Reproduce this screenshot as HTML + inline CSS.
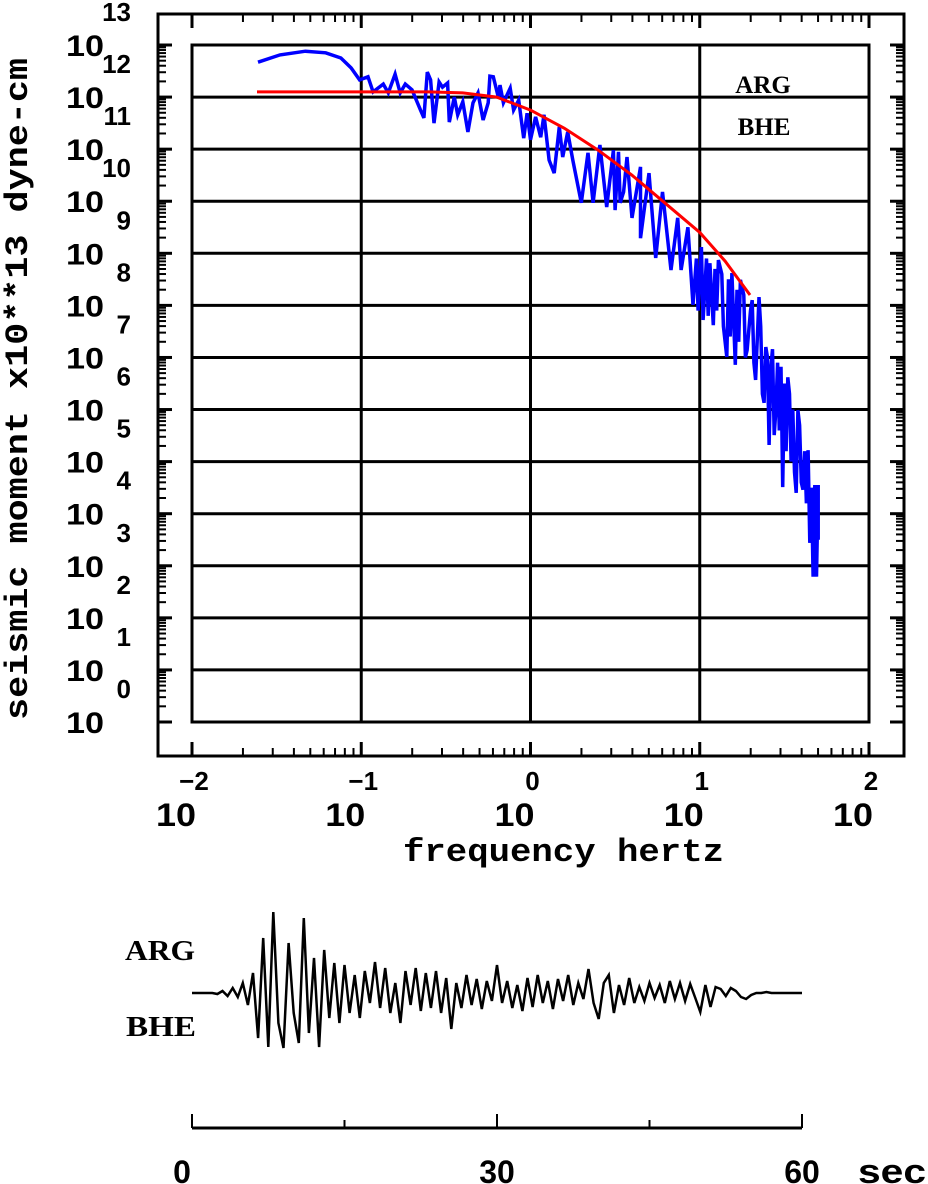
<!DOCTYPE html>
<html><head><meta charset="utf-8"><style>
html,body{margin:0;padding:0;background:#fff;}
svg{display:block;}
.num{font-family:"Liberation Sans",sans-serif;font-weight:bold;}
.ser{font-family:"Liberation Serif",serif;font-weight:bold;}
.mono{font-family:"Liberation Mono",monospace;font-weight:bold;}
</style></head><body>
<svg id="chart" width="928" height="1184" viewBox="0 0 928 1184" xmlns="http://www.w3.org/2000/svg">
<g id="frame"></g>
<g id="grid"></g>
<g id="ticks"></g>
<g id="labels"></g>
<g id="series"></g>
<text class="ser" x="763" y="93" font-size="25" text-anchor="middle">ARG</text>
<text class="ser" x="764" y="135" font-size="25" text-anchor="middle">BHE</text>
<text class="mono" x="0" y="0" font-size="32" textLength="662" lengthAdjust="spacingAndGlyphs" transform="translate(27,720) rotate(-90)">seismic moment x10**13 dyne-cm</text>
<text class="mono" x="403" y="861" font-size="32" textLength="321" lengthAdjust="spacingAndGlyphs">frequency hertz</text>
<text class="ser" x="125" y="960" font-size="28" textLength="70" lengthAdjust="spacingAndGlyphs">ARG</text>
<text class="ser" x="126" y="1036" font-size="28" textLength="70" lengthAdjust="spacingAndGlyphs">BHE</text>
<g id="trace"></g>
<g id="taxis"></g>
</svg>
<script>
// ---- spectrum data (log10 frequency Hz, log10 moment) ----
const specLogF = [-1.61,-1.48,-1.33,-1.21,-1.12,-1.06,-1.01,-0.96,-0.93,-0.87,-0.84,-0.80,-0.77,-0.74,-0.70,-0.65,-0.63,-0.61,-0.59,-0.57,-0.54,-0.52,-0.49,-0.48,-0.45,-0.43,-0.40,-0.37,-0.34,-0.31,-0.28,-0.25,-0.24,-0.22,-0.19,-0.18,-0.16,-0.12,-0.10,-0.07,-0.04,-0.02,0.00,0.03,0.06,0.08,0.11,0.14,0.17,0.19,0.22,0.25,0.30,0.34,0.37,0.41,0.45,0.49,0.50,0.52,0.53,0.55,0.57,0.60,0.65,0.65,0.70,0.74,0.78,0.83,0.87,0.89,0.93,0.96,0.98,0.99,1.01,1.02,1.04,1.05,1.06,1.08,1.09,1.10,1.11,1.13,1.14,1.16,1.17,1.18,1.19,1.21,1.22,1.23,1.24,1.26,1.27,1.28,1.30,1.31,1.32,1.33,1.35,1.36,1.37,1.38,1.39,1.40,1.41,1.42,1.43,1.44,1.45,1.46,1.47,1.48,1.49,1.50,1.51,1.52,1.53,1.54,1.55,1.56,1.57,1.58,1.59,1.60,1.61,1.62,1.63,1.64,1.65,1.66,1.67,1.68,1.69,1.70,1.70];
const specLogM = [12.67,12.81,12.88,12.85,12.75,12.56,12.33,12.39,12.10,12.25,12.08,12.44,12.08,12.25,12.14,11.75,11.60,12.48,12.33,11.50,12.29,12.19,12.27,11.52,12.00,11.66,11.91,11.33,11.89,12.08,11.56,11.89,12.40,12.39,12.00,12.23,11.89,12.17,11.75,11.94,11.21,11.69,11.18,11.62,11.23,11.66,10.79,10.54,11.43,10.85,11.33,10.79,9.97,10.93,9.97,11.08,9.89,10.98,9.83,10.95,9.97,10.18,10.85,9.68,10.66,9.29,10.54,8.91,10.18,8.68,9.68,8.68,9.50,8.01,8.90,7.90,9.12,7.72,8.90,7.80,8.81,7.62,8.70,7.90,8.87,8.60,7.60,7.01,8.50,7.40,8.62,6.86,8.30,7.30,8.49,8.20,7.00,7.14,7.90,8.10,6.90,6.57,8.16,7.60,6.30,6.13,7.20,7.01,5.32,6.80,7.16,5.51,6.00,6.90,5.60,6.82,4.51,6.50,5.20,6.62,6.30,5.00,6.00,4.80,4.40,5.99,5.70,4.60,4.46,5.20,4.20,5.22,3.44,4.50,2.79,4.55,2.79,4.55,3.50];
// ---- model (red) ----
const fitLogF = [-1.616,-1.0,-0.6,-0.4,-0.2,0.0,0.2,0.4,0.6,0.8,1.0,1.15,1.297];
const fitLogM = [12.10,12.10,12.10,12.08,12.00,11.75,11.40,10.98,10.50,9.95,9.40,8.85,8.20];
const yDecades = [13,12,11,10,9,8,7,6,5,4,3,2,1,0];
const xDecades = [-2,-1,0,1,2];
// ---- seismogram amplitude (samples every 0.5 s, arbitrary units) ----
const traceDt = 0.5;
const traceAmp = [0,0,0,0,0,-1,2,-3,5,-4,10,-12,20,-45,55,-54,81,-30,-55,50,-20,-50,75,-40,35,-54,43,-25,30,-30,28,-20,18,-25,22,-10,31,-15,25,-20,10,-30,22,-12,25,-18,20,-15,22,-20,15,-36,10,-15,18,-12,14,-16,12,-8,28,-10,12,-15,8,-18,15,-14,18,-10,12,-16,14,-8,18,-12,10,-6,24,-10,-26,10,18,-20,8,-12,15,-10,6,-8,10,-5,8,-10,12,-6,10,-8,9,-5,-19,8,-14,6,4,-3,5,2,-4,-6,-2,0,0,1,0,0,0,0,0,0,0];
const timeTicks = [0,15,30,45,60];
const timeLabels = [0,30,60];

const NS='http://www.w3.org/2000/svg';
function mk(tag,parent,attrs){const e=document.createElementNS(NS,tag);for(const k in attrs)e.setAttribute(k,attrs[k]);parent.appendChild(e);return e;}
const X0=192,X1=869,Y0=45,Y1=722;
const xs=v=>X0+(v+2)*(X1-X0)/4;
const ys=v=>Y0+(13-v)*(Y1-Y0)/13;
const frame=document.getElementById('frame'),grid=document.getElementById('grid'),ticks=document.getElementById('ticks'),labels=document.getElementById('labels'),series=document.getElementById('series');

let r=mk('rect',frame,{x:158,y:14,width:746,height:742,fill:'none',stroke:'#000','stroke-width':3});


r=mk('rect',frame,{x:X0,y:Y0,width:X1-X0,height:Y1-Y0,fill:'none',stroke:'#000','stroke-width':3});



yDecades.forEach(d=>{
  const y=ys(d);
  const l=mk('line',grid,{x1:X0,x2:X1,y1:y,y2:y,stroke:'#000','stroke-width':3});
  
  
  mk('line',ticks,{x1:158,x2:172,y1:y,y2:y,stroke:'#000','stroke-width':3});
  mk('line',ticks,{x1:904,x2:890,y1:y,y2:y,stroke:'#000','stroke-width':3});
  if(d<13){for(let k=2;k<=9;k++){const yy=y-Math.log10(k)*(Y1-Y0)/13;
    mk('line',ticks,{x1:158,x2:166,y1:yy,y2:yy,stroke:'#000','stroke-width':2});
    mk('line',ticks,{x1:904,x2:896,y1:yy,y2:yy,stroke:'#000','stroke-width':2});}}
  const t=mk('text',labels,{x:66,y:y+11,'font-size':30,textLength:38,lengthAdjust:'spacingAndGlyphs',class:'num'});
  t.textContent='10';
  
  
  const e=mk('text',labels,{x:131,y:y-24,'font-size':26,'text-anchor':'end',class:'num'});
  e.textContent=String(d);
  
  
});
xDecades.forEach(d=>{
  const x=xs(d);
  const l=mk('line',grid,{x1:x,x2:x,y1:Y0,y2:Y1,stroke:'#000','stroke-width':3});
  
  
  mk('line',ticks,{x1:x,x2:x,y1:14,y2:28,stroke:'#000','stroke-width':3});
  mk('line',ticks,{x1:x,x2:x,y1:756,y2:742,stroke:'#000','stroke-width':3});
  if(d<2){for(let k=2;k<=9;k++){const xx=x+Math.log10(k)*(X1-X0)/4;
    mk('line',ticks,{x1:xx,x2:xx,y1:14,y2:22,stroke:'#000','stroke-width':2});
    mk('line',ticks,{x1:xx,x2:xx,y1:756,y2:748,stroke:'#000','stroke-width':2});}}
  const e=mk('text',labels,{x:x+2,y:790,'font-size':26,'text-anchor':'middle',class:'num'});
  e.textContent=(d<0?'\u2212':'')+Math.abs(d);
  
  
  const t=mk('text',labels,{x:x-36,y:826,'font-size':32,textLength:40,lengthAdjust:'spacingAndGlyphs',class:'num'});
  t.textContent='10';
  
  
});

let pts=specLogF.map((f,i)=>xs(f).toFixed(1)+','+ys(specLogM[i]).toFixed(1)).join(' ');
const sp=mk('polyline',series,{points:pts,fill:'none',stroke:'#0000ff','stroke-width':3.5,'stroke-linejoin':'miter'});


pts=fitLogF.map((f,i)=>xs(f).toFixed(1)+','+ys(fitLogM[i]).toFixed(1)).join(' ');
const fp=mk('polyline',series,{points:pts,fill:'none',stroke:'#ff0000','stroke-width':3});



// seismogram
const T0=192,T1=802,base=993;
const ts=t=>T0+t*(T1-T0)/60;
const trace=document.getElementById('trace');
pts=traceAmp.map((a,i)=>ts(i*traceDt).toFixed(1)+','+(base-a).toFixed(1)).join(' ');
const tr=mk('polyline',trace,{points:pts,fill:'none',stroke:'#000','stroke-width':2.5});


const taxis=document.getElementById('taxis');
mk('line',taxis,{x1:T0,x2:T1,y1:1128,y2:1128,stroke:'#000','stroke-width':3});
timeTicks.forEach(t=>{const x=ts(t);const big=(t%30===0);
  mk('line',taxis,{x1:x,x2:x,y1:1128,y2:big?1114:1120,stroke:'#000','stroke-width':2});});
timeLabels.forEach(t=>{const lb=mk('text',taxis,{x:ts(t)-(t===0?10:0),y:1183,'font-size':32,'text-anchor':'middle',class:'num'});
  lb.textContent=String(t);
  
  });
const sec=mk('text',taxis,{x:858,y:1183,'font-size':34,textLength:68,lengthAdjust:'spacingAndGlyphs',class:'num'});
sec.textContent='sec';


</script>
</body></html>
